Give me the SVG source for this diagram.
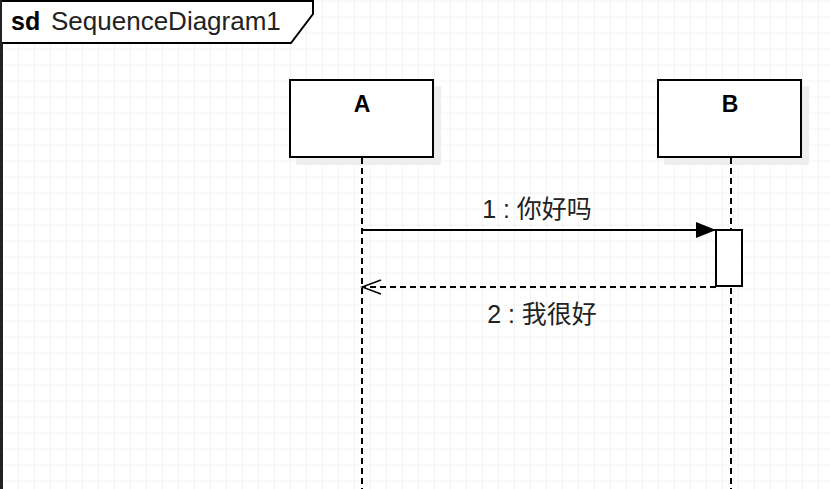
<svg xmlns="http://www.w3.org/2000/svg" width="830" height="489" viewBox="0 0 830 489">
<defs>
<pattern id="grid" x="2" y="0.7" width="16" height="16" patternUnits="userSpaceOnUse">
<path d="M16 0H0V16" fill="none" stroke="#e8e8e8" stroke-width="1"/>
</pattern>
<marker id="fill" markerWidth="20" markerHeight="16" refX="20" refY="8" orient="auto" markerUnits="userSpaceOnUse"><path d="M0 0L20 8L0 16Z" fill="#000"/></marker>
<marker id="open" markerWidth="22" markerHeight="18" refX="20" refY="8" orient="auto" markerUnits="userSpaceOnUse"><path d="M1 1L20 8L1 15" fill="none" stroke="#000" stroke-width="1.5"/></marker>
</defs>
<style>
.box{fill:#fff;stroke:#000;stroke-width:2}
.sh{fill:#eeeeee}
.life{stroke:#000;stroke-width:2;stroke-dasharray:6,4;fill:none}
.t{font-family:"Liberation Sans","Noto Sans CJK SC",sans-serif;font-size:25px;fill:#222}
.b{font-family:"Liberation Sans",sans-serif;font-size:23px;font-weight:bold;fill:#000}
</style>
<rect width="830" height="489" fill="#fff"/>
<rect width="830" height="489" fill="url(#grid)"/>
<g id="frame">
<rect x="0" y="0" width="3" height="489" fill="#222"/>
<path d="M2 1H313V14L291 43H2" fill="#fff" stroke="#000" stroke-width="2"/>
<text x="11" y="30" class="b" style="font-size:25px">sd</text>
<text x="51" y="30" class="t" style="font-size:26px">SequenceDiagram1</text>
</g>
<g id="A">
<rect class="sh" x="296" y="86" width="145" height="79"/>
<rect class="box" x="290" y="80" width="143" height="77"/>
<text class="b" x="362" y="112" text-anchor="middle">A</text>
<line class="life" x1="362" y1="158" x2="362" y2="489"/>
</g>
<g id="B">
<rect class="sh" x="664" y="86" width="145" height="79"/>
<rect class="box" x="658" y="80" width="143" height="77"/>
<text class="b" x="730" y="112" text-anchor="middle">B</text>
<line class="life" x1="731" y1="158" x2="731" y2="489"/>
<rect class="box" x="716" y="230" width="26" height="56"/>
</g>
<g id="connectors">
<line x1="362" y1="230" x2="716" y2="230" stroke="#000" stroke-width="2" marker-end="url(#fill)"/>
<line x1="716" y1="287" x2="362" y2="287" stroke="#000" stroke-width="2" stroke-dasharray="6,4" marker-end="url(#open)"/>
<text class="t" x="537" y="218" text-anchor="middle">1 : 你好吗</text>
<text class="t" x="542" y="323" text-anchor="middle">2 : 我很好</text>
</g>
</svg>
